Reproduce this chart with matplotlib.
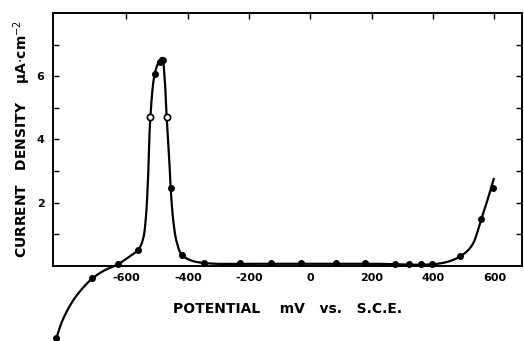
import numpy as np
import matplotlib
matplotlib.use("Agg")
import matplotlib.pyplot as plt

# measured points (mV vs SCE, uA/cm2)
pot_filled = [-829, -711, -629, -561, -508, -492, -482, -456, -420, -348, -231,
              -129, -31, 83, 178, 276, 322, 361, 397, 488, 557, 596]
cur_filled = [-2.29, -0.39, 0.05, 0.49, 6.07, 6.45, 6.51, 2.48, 0.36, 0.08, 0.08,
              0.08, 0.11, 0.08, 0.08, 0.05, 0.05, 0.05, 0.05, 0.30, 1.47, 2.45]
pot_open = [-522, -469]
cur_open = [4.72, 4.72]

# hand drawn curve through the points
curve_x = [-829, -810, -780, -750, -711, -672, -629, -590, -561, -546, -537, -530,
           -522, -508, -494, -484, -476, -469, -461, -456, -447, -436, -420, -388,
           -329, -200, 0, 200, 423, 488, 527, 557, 582, 598]
curve_y = [-2.29, -1.75, -1.18, -0.78, -0.39, -0.14, 0.05, 0.30, 0.52, 0.85, 1.5, 2.7,
           4.72, 6.07, 6.47, 6.58, 6.0, 4.72, 3.5, 2.48, 1.4, 0.75, 0.36, 0.17,
           0.08, 0.07, 0.07, 0.07, 0.08, 0.30, 0.65, 1.47, 2.22, 2.75]


def smooth(xs, ys, n=16):
    # centripetal catmull-rom, parameterised in screen-like units
    p = np.column_stack([np.array(xs) * 0.306, np.array(ys) * 31.7])
    p = np.vstack([2*p[0] - p[1], p, 2*p[-1] - p[-2]])
    out = []
    for i in range(1, len(p) - 2):
        p0, p1, p2, p3 = p[i-1], p[i], p[i+1], p[i+2]
        t0 = 0.0
        t1 = t0 + np.linalg.norm(p1 - p0) ** 0.5
        t2 = t1 + np.linalg.norm(p2 - p1) ** 0.5
        t3 = t2 + np.linalg.norm(p3 - p2) ** 0.5
        t = np.linspace(t1, t2, n, endpoint=False)[:, None]
        a1 = (t1 - t)/(t1 - t0)*p0 + (t - t0)/(t1 - t0)*p1
        a2 = (t2 - t)/(t2 - t1)*p1 + (t - t1)/(t2 - t1)*p2
        a3 = (t3 - t)/(t3 - t2)*p2 + (t - t2)/(t3 - t2)*p3
        b1 = (t2 - t)/(t2 - t0)*a1 + (t - t0)/(t2 - t0)*a2
        b2 = (t3 - t)/(t3 - t1)*a2 + (t - t1)/(t3 - t1)*a3
        out.append((t2 - t)/(t2 - t1)*b1 + (t - t1)/(t2 - t1)*b2)
    out.append(p[-2][None, :])
    out = np.vstack(out)
    return out[:, 0] / 0.306, out[:, 1] / 31.7


plt.rcParams['font.family'] = 'DejaVu Sans'
fig = plt.figure(figsize=(5.24, 3.41), dpi=100)
ax = fig.add_axes([0.101, 0.22, 0.895, 0.742])

sx, sy = smooth(curve_x, curve_y)
ax.plot(sx, sy, color='black', lw=1.6, clip_on=False, zorder=2)
ax.plot(pot_filled, cur_filled, 'o', color='black', ms=4, clip_on=False, zorder=3)
ax.plot(pot_open, cur_open, 'o', mfc='white', mec='black', mew=1.2, ms=4.5,
        clip_on=False, zorder=3)

ax.set_xlim(-840, 690)
ax.set_ylim(0, 8)
ax.set_xticks([-600, -400, -200, 0, 200, 400, 600])
ax.set_xticklabels(['-600', '-400', '-200', '0', '200', '400', '600'],
                   fontweight='bold', fontsize=8)
ax.set_yticks([2, 4, 6])
ax.set_yticklabels(['2', '4', '6'], fontweight='bold', fontsize=8)
ax.set_yticks([1, 3, 5, 7], minor=True)
ax.tick_params(axis='y', which='both', direction='in', length=4, width=1,
               right=True, pad=6)
ax.tick_params(axis='x', which='major', direction='in', length=4, width=1,
               top=True, bottom=False, pad=5)
for s in ax.spines.values():
    s.set_linewidth(1.4)

ax.set_xlabel('POTENTIAL    mV   vs.   S.C.E.', fontsize=10, fontweight='bold',
              labelpad=14)
ax.set_ylabel('CURRENT   DENSITY    $\\mathbf{\\mu}$A$\\cdot$cm$^{-2}$', fontsize=10,
              fontweight='bold', labelpad=3)

fig.savefig('out.png', dpi=100)
